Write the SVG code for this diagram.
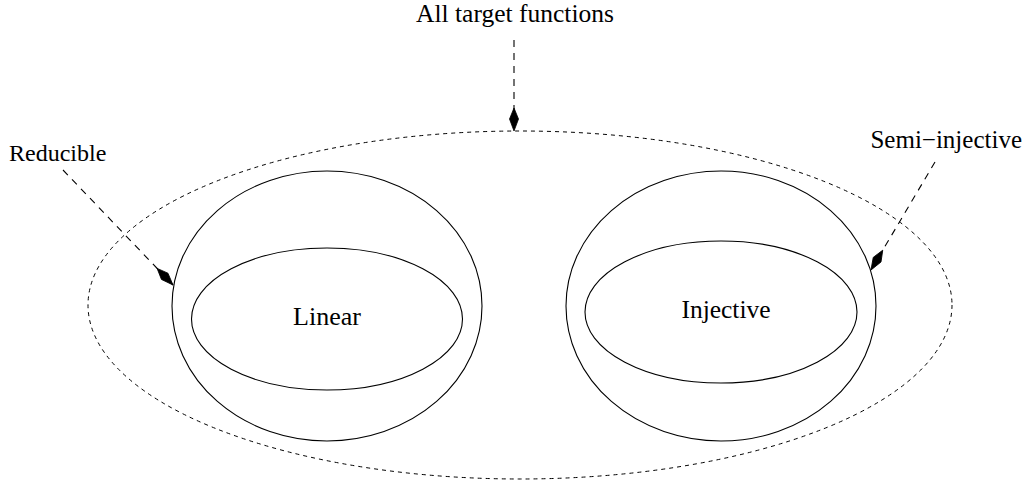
<svg xmlns="http://www.w3.org/2000/svg" width="1030" height="489" viewBox="0 0 1030 489">
<style>
  .solid { fill: none; stroke: #000; stroke-width: 1.1; }
  .set { fill: none; stroke: #000; stroke-width: 1; stroke-dasharray: 4 4; }
  .arrow { fill: none; stroke: #000; stroke-width: 1.1; stroke-dasharray: 7 6; marker-end: url(#kite); }
  text { font-family: "Liberation Serif", "Times New Roman", serif; font-size: 25px; fill: #000; }
</style>
<defs>
  <marker id="kite" markerUnits="userSpaceOnUse" viewBox="-26 -6 28 12" refX="0" refY="0" markerWidth="28" markerHeight="12" orient="auto">
    <path d="M0,0 L-12,-4.5 L-23,0 L-12,4.5 Z" fill="#000" stroke="#000" stroke-width="0.8"/>
  </marker>
</defs>
<rect width="1030" height="489" fill="#fff"/>
<g id="all-target-functions">
  <ellipse class="set" cx="520" cy="305" rx="432" ry="174"/>
  <text x="515" y="22" text-anchor="middle" style="font-size:25.5px">All target functions</text>
</g>
<g id="reducible">
  <ellipse class="solid" cx="327" cy="306" rx="155" ry="135"/>
  <text x="9" y="161" style="font-size:24px">Reducible</text>
</g>
<g id="linear">
  <ellipse class="solid" cx="327" cy="319" rx="135.5" ry="71"/>
  <text x="327" y="325" text-anchor="middle" style="font-size:26px">Linear</text>
</g>
<g id="semi-injective">
  <ellipse class="solid" cx="721" cy="306" rx="155" ry="135"/>
  <text x="1022" y="148" text-anchor="end">Semi−injective</text>
</g>
<g id="injective">
  <ellipse class="solid" cx="721" cy="312" rx="136" ry="71"/>
  <text x="726" y="318" text-anchor="middle" style="font-size:25.5px">Injective</text>
</g>
<g id="connectors">
  <line class="arrow" x1="514" y1="40" x2="514" y2="131"/>
  <line class="arrow" x1="63" y1="170" x2="173" y2="285"/>
  <line class="arrow" x1="935" y1="162" x2="871" y2="270"/>
</g>
</svg>
